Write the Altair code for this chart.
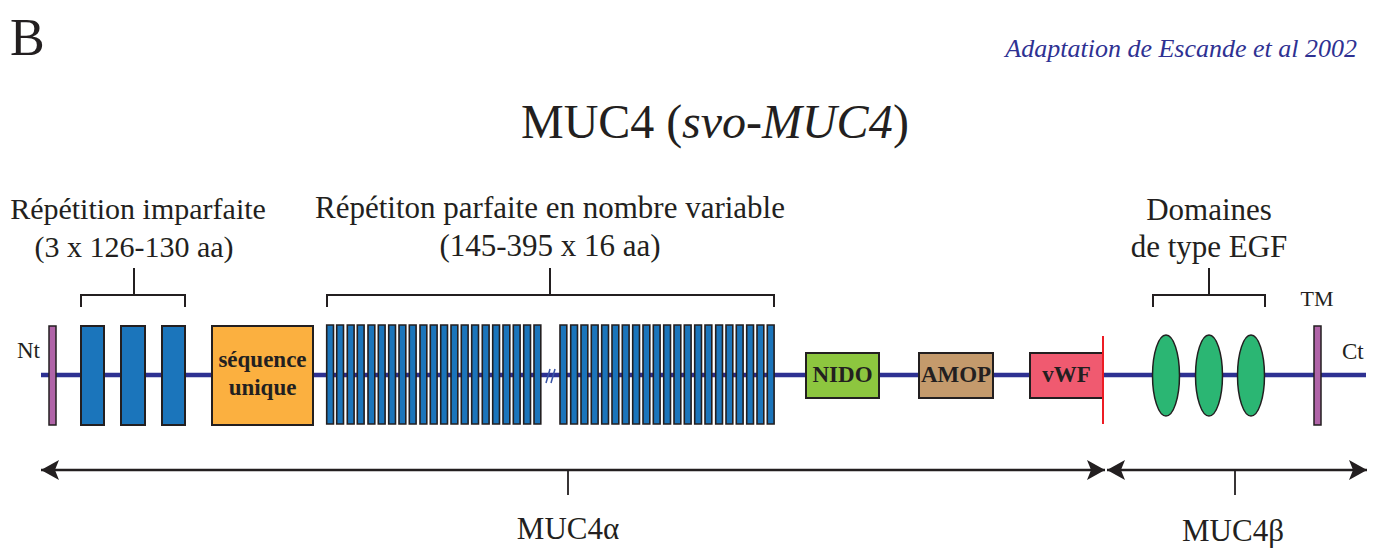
import altair as alt
import pandas as pd

# ---------------- values (diagram positions, page pixels) ----------------
BACKBONE_X = [41, 1366]
BACKBONE_Y = 375

TERM_LABELS = ["Nt", "TM"]
TERM_START = [49, 1314]
TERM_END = [56, 1321]

IMP_START = [81, 121, 162]
IMP_END = [104, 145, 185]

REP1_START = [326.7, 336.7, 347.3, 357.3, 368.0, 378.3, 388.7, 399.0, 409.3, 420.0, 430.3,
              440.7, 451.0, 461.3, 471.7, 482.3, 492.7, 503.0, 513.3, 523.7, 534.0]
REP2_START = [560.0, 570.7, 581.0, 591.3, 601.7, 612.0, 622.3, 632.7, 643.0, 653.3, 663.7,
              674.0, 684.3, 694.7, 705.0, 715.7, 726.0, 736.3, 746.7, 757.0, 767.3]
REP_WIDTH = 6.8

UNIQUE_X = [212, 313]

DOMAIN_NAMES = ["NIDO", "AMOP", "vWF"]
DOMAIN_START = [806, 919, 1030]
DOMAIN_END = [879, 993, 1103]
DOMAIN_COLORS = ["#8dc63f", "#c49a6c", "#f05a70"]

CLEAVAGE_X = 1103
EGF_CENTERS = [1166, 1209, 1251]

BRACKET_START = [81, 327, 1153]
BRACKET_END = [185, 774, 1265]
BRACKET_MID = [134, 550, 1209]

ARROW_NAMES = ["MUC4\u03b1", "MUC4\u03b2"]
ARROW_START = [41, 1107]
ARROW_END = [1105, 1367]
ARROW_TICK = [568, 1235]

# ---------------- styling ----------------
FONT = "Liberation Serif"
INK = "#231f20"
NAVY = "#2e3192"
xs = alt.Scale(domain=[8, 1383], nice=False, zero=False)
ys = alt.Scale(domain=[8, 549], nice=False, zero=False, reverse=True)


def X(f="x"):
    return alt.X(f"{f}:Q", scale=xs, axis=None)


def Y(f="y"):
    return alt.Y(f"{f}:Q", scale=ys, axis=None)


TOP, BOT = 326, 425

# backbone
backbone = alt.Chart(pd.DataFrame({"x": [BACKBONE_X[0]], "x2": [BACKBONE_X[1]], "y": [BACKBONE_Y]})).mark_rule(
    color=NAVY, strokeWidth=4.5).encode(x=X(), x2="x2:Q", y=Y())

# break mark "//"
brk = pd.DataFrame({"x": [546, 551], "x2": [550, 555], "y": [383, 383], "y2": [369, 369]})
break_mark = alt.Chart(brk).mark_rule(color="#3953a4", strokeWidth=1.5).encode(
    x=X(), x2="x2:Q", y=Y(), y2="y2:Q")

# terminal bars (Nt side bar, TM)
term = pd.DataFrame({"x": TERM_START, "x2": TERM_END, "y": [TOP] * 2, "y2": [BOT] * 2})
term_bars = alt.Chart(term).mark_rect(fill="#b064a8", stroke=INK, strokeWidth=1.5).encode(
    x=X(), x2="x2:Q", y=Y(), y2="y2:Q")

# imperfect repeats
imp = pd.DataFrame({"x": IMP_START, "x2": IMP_END, "y": [TOP] * 3, "y2": [BOT] * 3})
imp_bars = alt.Chart(imp).mark_rect(fill="#1b75bb", stroke=INK, strokeWidth=2).encode(
    x=X(), x2="x2:Q", y=Y(), y2="y2:Q")

# perfect repeats
reps = REP1_START + REP2_START
rep = pd.DataFrame({"x": reps, "x2": [s + REP_WIDTH for s in reps],
                    "y": [TOP - 1] * len(reps), "y2": [BOT - 1] * len(reps)})
rep_bars = alt.Chart(rep).mark_rect(fill="#1b75bb", stroke=INK, strokeWidth=1.6).encode(
    x=X(), x2="x2:Q", y=Y(), y2="y2:Q")

# unique sequence
uni = pd.DataFrame({"x": [UNIQUE_X[0]], "x2": [UNIQUE_X[1]], "y": [TOP], "y2": [BOT]})
uni_box = alt.Chart(uni).mark_rect(fill="#fbb040", stroke=INK, strokeWidth=2).encode(
    x=X(), x2="x2:Q", y=Y(), y2="y2:Q")

# NIDO / AMOP / vWF
dom = pd.DataFrame({"name": DOMAIN_NAMES, "x": DOMAIN_START, "x2": DOMAIN_END,
                    "y": [353] * 3, "y2": [398] * 3})
dom_boxes = alt.Chart(dom).mark_rect(stroke=INK, strokeWidth=2).encode(
    x=X(), x2="x2:Q", y=Y(), y2="y2:Q",
    fill=alt.Fill("name:N", scale=alt.Scale(domain=DOMAIN_NAMES, range=DOMAIN_COLORS), legend=None))

# cleavage site
cleave = alt.Chart(pd.DataFrame({"x": [CLEAVAGE_X], "y": [336], "y2": [424]})).mark_rule(
    color="#ed1c24", strokeWidth=2).encode(x=X(), y=Y(), y2="y2:Q")

# EGF-like ellipses
ELLIPSE = ("M 0 -1 C 0.184 -1 0.333 -0.552 0.333 0 C 0.333 0.552 0.184 1 0 1 "
           "C -0.184 1 -0.333 0.552 -0.333 0 C -0.333 -0.552 -0.184 -1 0 -1 Z")
egf = pd.DataFrame({"x": EGF_CENTERS, "y": [375.5] * 3})
egf_marks = alt.Chart(egf).mark_point(shape=ELLIPSE, size=81 * 81, filled=True, fill="#2bb673",
                                      stroke=INK, strokeWidth=1.5, opacity=1, fillOpacity=1).encode(
    x=X(), y=Y())

# brackets
br_h = pd.DataFrame({"x": BRACKET_START, "x2": BRACKET_END, "y": [295] * 3})
br_ends = pd.DataFrame({"x": BRACKET_START + BRACKET_END, "y": [294] * 6, "y2": [307] * 6})
br_mid = pd.DataFrame({"x": BRACKET_MID, "y": [268] * 3, "y2": [295] * 3})
brackets = alt.layer(
    alt.Chart(br_h).mark_rule(color=INK, strokeWidth=2).encode(x=X(), x2="x2:Q", y=Y()),
    alt.Chart(br_ends).mark_rule(color=INK, strokeWidth=2).encode(x=X(), y=Y(), y2="y2:Q"),
    alt.Chart(br_mid).mark_rule(color=INK, strokeWidth=2).encode(x=X(), y=Y(), y2="y2:Q"),
)

# double arrows
ARROW_Y = 470
arr = pd.DataFrame({"x": ARROW_START, "x2": ARROW_END, "y": [ARROW_Y] * 2})
arr_lines = alt.Chart(arr).mark_rule(color=INK, strokeWidth=2.4).encode(x=X(), x2="x2:Q", y=Y())
LEFT_HEAD = "M 0 0 L 2 -1.1 L 1.55 0 L 2 1.1 Z"
RIGHT_HEAD = "M 0 0 L -2 -1.1 L -1.55 0 L -2 1.1 Z"
lh = alt.Chart(pd.DataFrame({"x": ARROW_START, "y": [ARROW_Y] * 2})).mark_point(
    shape=LEFT_HEAD, size=324, filled=True, color=INK, opacity=1).encode(x=X(), y=Y())
rh = alt.Chart(pd.DataFrame({"x": ARROW_END, "y": [ARROW_Y] * 2})).mark_point(
    shape=RIGHT_HEAD, size=324, filled=True, color=INK, opacity=1).encode(x=X(), y=Y())
ticks = alt.Chart(pd.DataFrame({"x": ARROW_TICK, "y": [ARROW_Y] * 2, "y2": [495] * 2})).mark_rule(
    color=INK, strokeWidth=1.8).encode(x=X(), y=Y(), y2="y2:Q")


def text_layer(rows, size, align="center", weight="normal", style="normal", color=INK):
    df = pd.DataFrame(rows, columns=["x", "y", "t"])
    return alt.Chart(df).mark_text(font=FONT, fontSize=size, align=align, baseline="alphabetic",
                                   fontWeight=weight, fontStyle=style, color=color).encode(
        x=X(), y=Y(), text="t:N")


labels = alt.layer(
    text_layer([(10, 55, "B")], 52, align="left"),
    text_layer([(1357, 57, "Adaptation de Escande et al 2002")], 26, align="right", style="italic", color=NAVY),
    text_layer([(521, 138, "MUC4 (")], 48, align="left"),
    text_layer([(682, 138, "svo-MUC4")], 48, align="left", style="italic"),
    text_layer([(893, 138, ")")], 48, align="left"),
    text_layer([(138, 219, "Répétition imparfaite"), (134, 257, "(3 x 126-130 aa)")], 30),
    text_layer([(550, 218, "Répétiton parfaite en nombre variable"), (550, 256, "(145-395 x 16 aa)"),
                (1209, 220, "Domaines"), (1209, 257, "de type EGF")], 31),
    text_layer([(40, 358, TERM_LABELS[0])], 23, align="right"),
    text_layer([(1317, 306, TERM_LABELS[1])], 22),
    text_layer([(1342, 359, "Ct")], 23, align="left"),
    text_layer([(262.5, 367, "séquence"), (262.5, 395, "unique")], 23, weight="bold"),
    text_layer([((s + e) / 2, 382, n) for s, e, n in zip(DOMAIN_START, DOMAIN_END, DOMAIN_NAMES)],
               23, weight="bold"),
    text_layer([(568, 539, ARROW_NAMES[0]), (1233, 541, ARROW_NAMES[1])], 31),
)

chart = alt.layer(
    backbone, break_mark, term_bars, imp_bars, rep_bars, uni_box, dom_boxes, cleave, egf_marks,
    brackets, arr_lines, lh, rh, ticks, labels,
).properties(width=1375, height=541, padding=0, autosize="none", background="white"
).configure_view(stroke=None)

chart.save("out.html", embed_options={"renderer": "svg", "actions": False})
